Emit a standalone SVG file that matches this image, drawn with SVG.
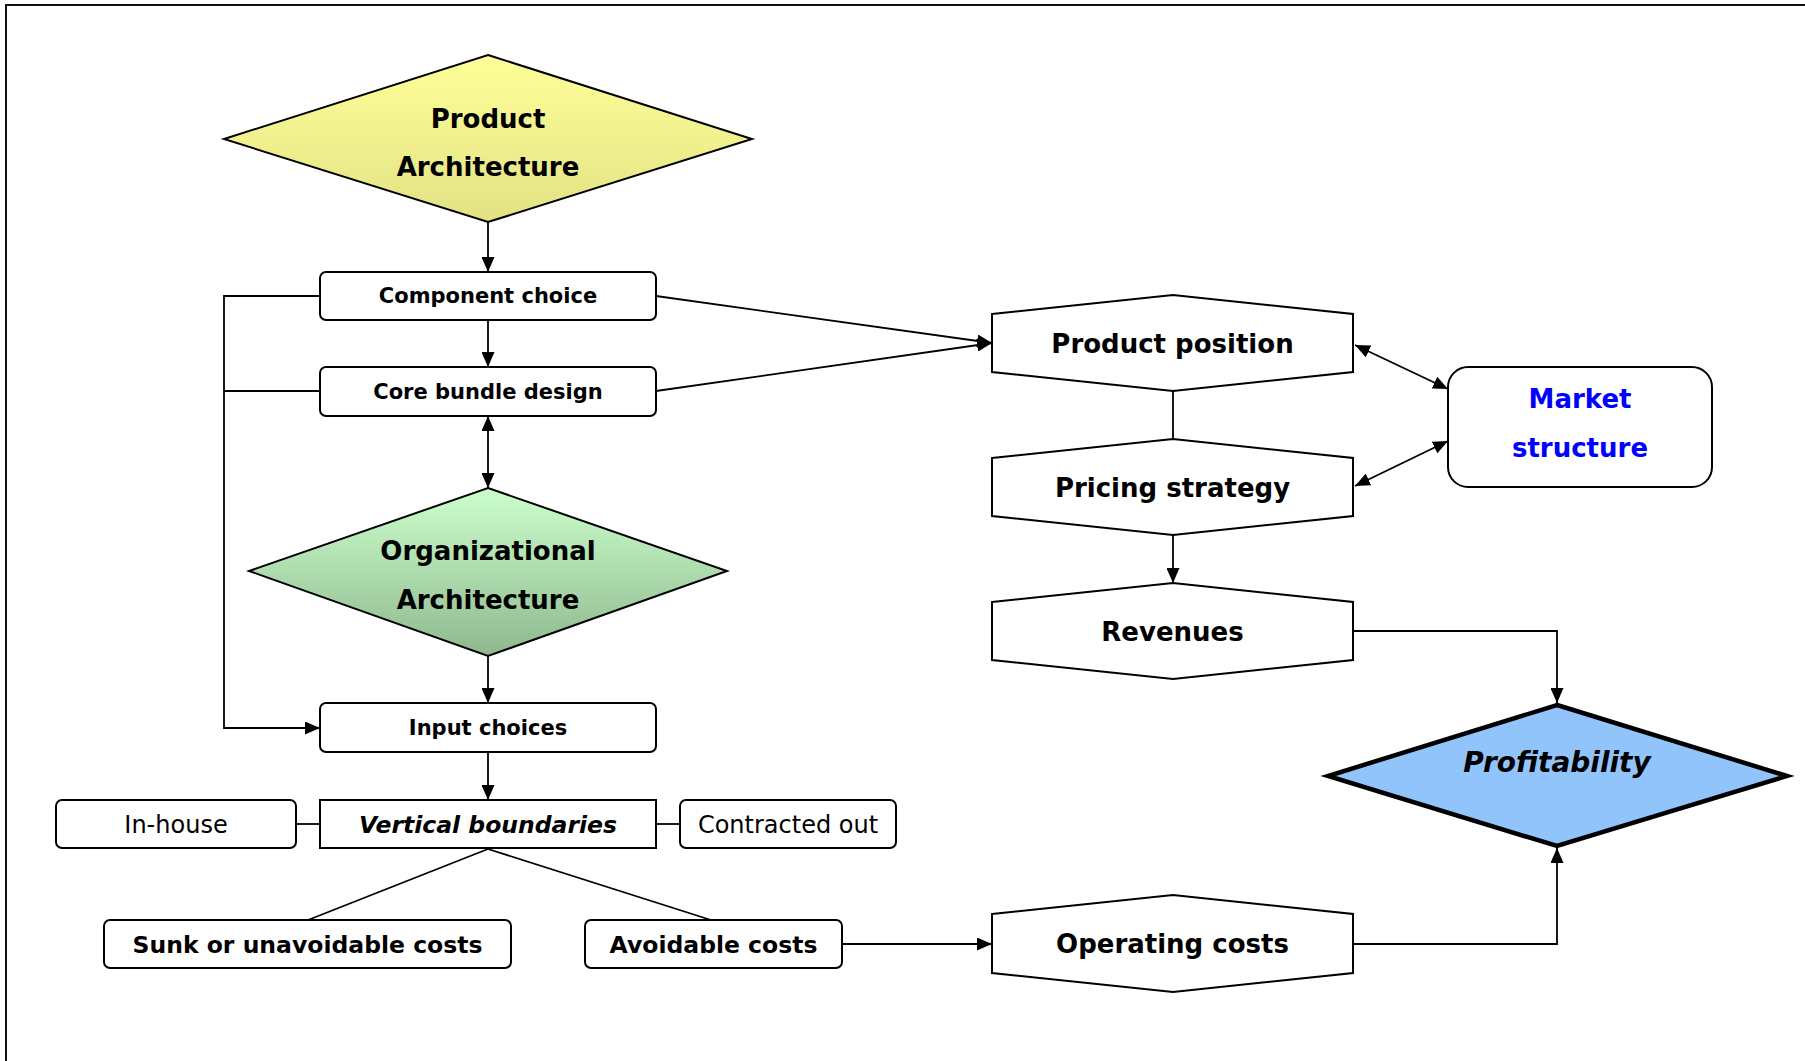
<svg xmlns="http://www.w3.org/2000/svg" width="1805" height="1061" viewBox="0 0 1805 1061">
<style>
.box{fill:#fff;stroke:#000;stroke-width:2}
.hex{fill:#fff;stroke:#000;stroke-width:2}
.t{font-family:"DejaVu Sans",Verdana,sans-serif;font-weight:bold;text-anchor:middle;fill:#000}
.r{font-family:"DejaVu Sans",Verdana,sans-serif;font-weight:normal;text-anchor:middle;fill:#000}
.c{fill:none;stroke:#000;stroke-width:1.8}
</style>
<defs>
<linearGradient id="gy" x1="0" y1="0" x2="0" y2="1"><stop offset="0" stop-color="#FFFF99"/><stop offset="1" stop-color="#E2E285"/></linearGradient>
<linearGradient id="gg" x1="0" y1="0" x2="0" y2="1"><stop offset="0" stop-color="#CCFFCC"/><stop offset="1" stop-color="#8FB88F"/></linearGradient>
<marker id="a" viewBox="0 0 15 13" refX="15" refY="6.5" markerWidth="15" markerHeight="13" markerUnits="userSpaceOnUse" orient="auto-start-reverse"><path d="M0,0 L15,6.5 L0,13 z" fill="#000"/></marker>
</defs>
<rect x="6" y="5" width="1830" height="1090" fill="#fff" stroke="#111" stroke-width="2"/>
<g id="connectors">
<path class="c" d="M488,222 V272" marker-end="url(#a)"/>
<path class="c" d="M488,320 V367" marker-end="url(#a)"/>
<path class="c" d="M488,416 V488" marker-start="url(#a)" marker-end="url(#a)"/>
<path class="c" d="M488,656 V703" marker-end="url(#a)"/>
<path class="c" d="M488,752 V800" marker-end="url(#a)"/>
<path class="c" d="M320,296 H224 V728 H320" marker-end="url(#a)"/>
<path class="c" d="M320,391 H224"/>
<path class="c" d="M296,824 H320"/>
<path class="c" d="M656,824 H680"/>
<path class="c" d="M488,849 L308,920"/>
<path class="c" d="M488,849 L711,920"/>
<path class="c" d="M842,944 H992" marker-end="url(#a)"/>
<path class="c" d="M1353,944 H1557 V848" marker-end="url(#a)"/>
<path class="c" d="M1353,631 H1557 V703" marker-end="url(#a)"/>
<path class="c" d="M1173,535 V583" marker-end="url(#a)"/>
<path class="c" d="M1173,391 V439"/>
<path class="c" d="M1355,345 L1448,389" marker-start="url(#a)" marker-end="url(#a)"/>
<path class="c" d="M1355,486 L1448,441" marker-start="url(#a)" marker-end="url(#a)"/>
<path class="c" d="M656,296 L992,343" marker-end="url(#a)"/>
<path class="c" d="M656,391 L992,343" marker-end="url(#a)"/>
</g>
<g id="product-architecture">
<polygon points="488,55 752,139 488,222 224,139" fill="url(#gy)" stroke="#000" stroke-width="2"/>
<text class="t" x="488" y="128" font-size="26">Product</text>
<text class="t" x="488" y="176" font-size="26">Architecture</text>
</g>
<g id="component-choice">
<rect class="box" x="320" y="272" width="336" height="48" rx="6"/>
<text class="t" x="488" y="303" font-size="21">Component choice</text>
</g>
<g id="core-bundle">
<rect class="box" x="320" y="367" width="336" height="49" rx="6"/>
<text class="t" x="488" y="399" font-size="21">Core bundle design</text>
</g>
<g id="organizational-architecture">
<polygon points="488,488 727,571 488,656 249,571" fill="url(#gg)" stroke="#000" stroke-width="2"/>
<text class="t" x="488" y="560" font-size="26">Organizational</text>
<text class="t" x="488" y="609" font-size="26">Architecture</text>
</g>
<g id="input-choices">
<rect class="box" x="320" y="703" width="336" height="49" rx="6"/>
<text class="t" x="488" y="735" font-size="21">Input choices</text>
</g>
<g id="vertical-boundaries">
<rect class="box" x="320" y="800" width="336" height="48"/>
<text class="t" x="488" y="833" font-size="23.5" font-style="italic">Vertical boundaries</text>
</g>
<g id="in-house">
<rect class="box" x="56" y="800" width="240" height="48" rx="6"/>
<text class="r" x="176" y="833" font-size="24">In-house</text>
</g>
<g id="contracted-out">
<rect class="box" x="680" y="800" width="216" height="48" rx="6"/>
<text class="r" x="788" y="833" font-size="24">Contracted out</text>
</g>
<g id="sunk-costs">
<rect class="box" x="104" y="920" width="407" height="48" rx="6"/>
<text class="t" x="307.5" y="952.5" font-size="23.5">Sunk or unavoidable costs</text>
</g>
<g id="avoidable-costs">
<rect class="box" x="585" y="920" width="257" height="48" rx="6"/>
<text class="t" x="713.5" y="952.5" font-size="23.5">Avoidable costs</text>
</g>
<g id="product-position">
<polygon class="hex" points="992,314 1173,295 1353,314 1353,372 1173,391 992,372"/>
<text class="t" x="1172.5" y="353" font-size="26">Product position</text>
</g>
<g id="pricing-strategy">
<polygon class="hex" points="992,458 1173,439 1353,458 1353,516 1173,535 992,516"/>
<text class="t" x="1172.5" y="497" font-size="26">Pricing strategy</text>
</g>
<g id="revenues">
<polygon class="hex" points="992,602 1173,583 1353,602 1353,660 1173,679 992,660"/>
<text class="t" x="1172.5" y="641" font-size="26">Revenues</text>
</g>
<g id="operating-costs">
<polygon class="hex" points="992,914 1173,895 1353,914 1353,973 1173,992 992,973"/>
<text class="t" x="1172.5" y="953" font-size="26">Operating costs</text>
</g>
<g id="market-structure">
<rect class="box" x="1448" y="367" width="264" height="120" rx="20"/>
<text class="t" x="1580" y="408" font-size="26" fill="#0000FF" style="fill:#0000FF">Market</text>
<text class="t" x="1580" y="457" font-size="26" style="fill:#0000FF">structure</text>
</g>
<g id="profitability">
<polygon points="1557,705 1787,776 1557,846 1328,776" fill="#90C4FA" stroke="#000" stroke-width="4.5"/>
<text class="t" x="1557" y="772" font-size="28" font-style="italic">Profitability</text>
</g>
</svg>
